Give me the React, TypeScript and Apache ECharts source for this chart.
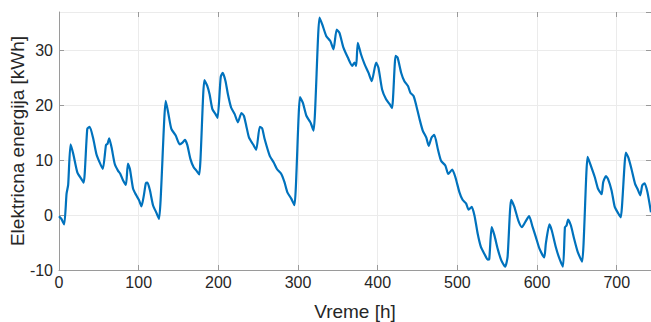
import React, { useEffect, useRef } from "react";
import * as echarts from "echarts";

const hours: number[] = [
  0, 3, 6.5, 9.5, 11.5, 14.5, 18, 23, 28, 31, 35.5, 38.5, 43, 47, 51, 55, 59, 61, 63, 66,
  70, 74, 77, 80.5, 84, 86.5, 89, 93, 97, 100.5, 103.5, 106.5, 109, 111, 114, 118, 122, 125.5,
  134, 137, 141, 146.5, 151.5, 155, 158, 161, 165, 169, 172.5, 176, 182.5, 186, 189, 192.5,
  196.5, 199, 203, 205.5, 209, 212, 216, 220.5, 224.5, 229, 232, 235, 238.5, 243.5, 247.5,
  252, 255, 258, 264.5, 269.5, 273.5, 279, 283, 286.5, 291.5, 295.5, 302.5, 306, 310.5,
  315.5, 319.5, 327, 330.5, 335.5, 340.5, 344.5, 348.5, 352, 357, 362.5, 368, 371, 373, 375,
  379, 383.5, 388.5, 392.5, 398, 401, 405.5, 410.5, 415, 418, 422.5, 425, 429.5, 433.5, 438,
  441, 445, 448, 452.5, 456.5, 461, 464, 467.5, 471, 475.5, 479.5, 485, 488.5, 493.5, 497.5,
  502.5, 506.5, 511, 514, 518, 521.5, 525.5, 529.5, 534, 538, 540, 543, 546.5, 550.5, 555,
  560, 563, 567.5, 571.5, 576.5, 581, 585, 590, 594.5, 598.5, 603, 609, 611, 615.5, 618.5,
  623.5, 628, 632.5, 635, 637, 639, 642.5, 646.5, 651, 656.5, 663.5, 667.5, 672.5, 676.5,
  681, 683, 686.5, 689, 693.5, 697.5, 702, 705, 711.5, 714.5, 718.5, 723, 726, 729.5, 732,
  735, 738.5, 743,
];

const energy: number[] = [
  -0.2, -0.7, -1.7, 3.9, 5.5, 12.9, 11.1, 7.8, 6.6, 5.9, 15.7, 16.1, 13.9, 11.1, 9.6, 8.4, 12.8, 13.0, 14.0, 12.3,
  9.3, 8.1, 7.5, 6.3, 5.5, 9.4, 8.4, 4.8, 3.6, 2.7, 1.6, 3.6, 5.8, 5.9, 4.6, 1.8, 0.5, -0.7,
  20.8, 18.7, 15.7, 14.5, 12.9, 13.2, 13.7, 12.8, 10.2, 8.7, 8.1, 7.4, 24.6, 23.6, 22, 19.3,
  18.4, 17.7, 25.2, 25.9, 24.4, 22, 19.6, 18.4, 16.9, 18.6, 18.1, 16.3, 14.1, 12.9, 11.9,
  16.1, 15.8, 13.9, 10.8, 9.6, 8.4, 7.5, 6.0, 4.2, 3.0, 1.8, 21.5, 20.5, 18.1,
  16.9, 15.4, 36.0, 34.7, 32.6, 31.7, 30.2, 33.8, 33.2, 30.5, 28.7, 27.2, 27.8, 27.2, 31.4,
  29.3, 27.5, 25.9, 24.4, 27.8, 26.8, 22.9, 21.1, 20.2, 19.5, 29.0, 28.7, 25.9, 24.4, 23.5,
  22.3, 21.7, 20.2, 17.5, 15.4, 14.1, 12.6, 14.1, 14.6, 12.0, 9.9, 9.0, 7.5, 8.3, 6.9,
  4.2, 2.8, 2.1, 1.0, 1.5, -0.1, -3.4, -5.8, -7.1, -8.1, -8.0, -2.2, -3.7, -6.1, -8.2,
  -9.4, -7.6, 2.8, 1.5, -1.0, -2.2, -1.3, -0.2, -2.2, -4.0, -6.1, -7.7, -5.2, -1.7, -2.8,
  -5.8, -7.9, -9.4, -2.2, -1.9, -0.8, -1.9, -4.3, -6.7, -8.5, 10.6, 9.0, 6.9, 4.8,
  3.8, 6.0, 7.1, 6.6, 4.5, 1.5, 0.3, -0.4, 11.4, 10.5, 8.4, 5.7, 4.8, 3.6, 5.4,
  5.8, 4.2, 0.5,
];

const xMin = 0;
const xMax = 743;
const yMin = -10;
const yMax = 37;
const xTitle = "Vreme [h]";
const yTitle = "Elektricna energija [kWh]";

const FONT = "'Liberation Sans', Arial, sans-serif";
const TEXT = "#262626";
const AXIS = "#9a9a9a";
const GRID = "#ebebeb";

export default function App() {
  const ref = useRef<HTMLDivElement>(null);
  useEffect(() => {
    if (!ref.current) return;
    const chart = echarts.init(ref.current, undefined, { renderer: "svg" });
    const points = hours.map((h, i) => [h, energy[i]]);
    chart.setOption({
      animation: false,
      grid: { left: 59, right: 0, top: 12, bottom: 52, containLabel: false, outerBoundsMode: "none" },
      xAxis: [
        {
          type: "value",
          min: xMin,
          max: xMax,
          interval: 100,
          name: xTitle,
          nameLocation: "middle",
          nameGap: 32,
          nameMoveOverlap: false,
          nameTextStyle: { color: TEXT, fontSize: 19, fontFamily: FONT },
          axisLine: { show: true, onZero: false, lineStyle: { color: AXIS, width: 1 } },
          axisTick: { show: true, inside: true, length: 5, lineStyle: { color: AXIS } },
          axisLabel: { color: TEXT, fontSize: 16, fontFamily: FONT, margin: 4, showMaxLabel: false },
          splitLine: { show: true, lineStyle: { color: GRID, width: 1 } },
        },
        {
          type: "value",
          position: "top",
          min: xMin,
          max: xMax,
          interval: 100,
          axisLine: { show: false, onZero: false },
          axisTick: { show: true, inside: true, length: 5, lineStyle: { color: AXIS } },
          axisLabel: { show: false },
          splitLine: { show: false },
        },
      ],
      yAxis: [
        {
          type: "value",
          min: yMin,
          max: yMax,
          interval: 10,
          name: yTitle,
          nameLocation: "middle",
          nameGap: 32,
          nameMoveOverlap: false,
          nameTextStyle: { color: TEXT, fontSize: 19, fontFamily: FONT },
          axisLine: { show: true, onZero: false, lineStyle: { color: AXIS, width: 1 } },
          axisTick: { show: true, inside: true, length: 5, lineStyle: { color: AXIS } },
          axisLabel: { color: TEXT, fontSize: 16, fontFamily: FONT, margin: 6, showMaxLabel: false },
          splitLine: { show: true, lineStyle: { color: GRID, width: 1 } },
        },
        {
          type: "value",
          position: "right",
          min: yMin,
          max: yMax,
          interval: 10,
          axisLine: { show: false, onZero: false },
          axisTick: { show: true, inside: true, length: 5, lineStyle: { color: AXIS } },
          axisLabel: { show: false },
          splitLine: { show: false },
        },
      ],
      series: [
        {
          type: "line",
          xAxisIndex: 0,
          yAxisIndex: 0,
          data: points,
          showSymbol: false,
          smooth: 0.2,
          lineStyle: { color: "#0072BD", width: 2.2 },
        },
      ],
    });
    return () => chart.dispose();
  }, []);
  return (
    <div
      ref={ref}
      style={{ position: "fixed", left: 0, top: 0, width: 651, height: 322, background: "#fff" }}
    />
  );
}
